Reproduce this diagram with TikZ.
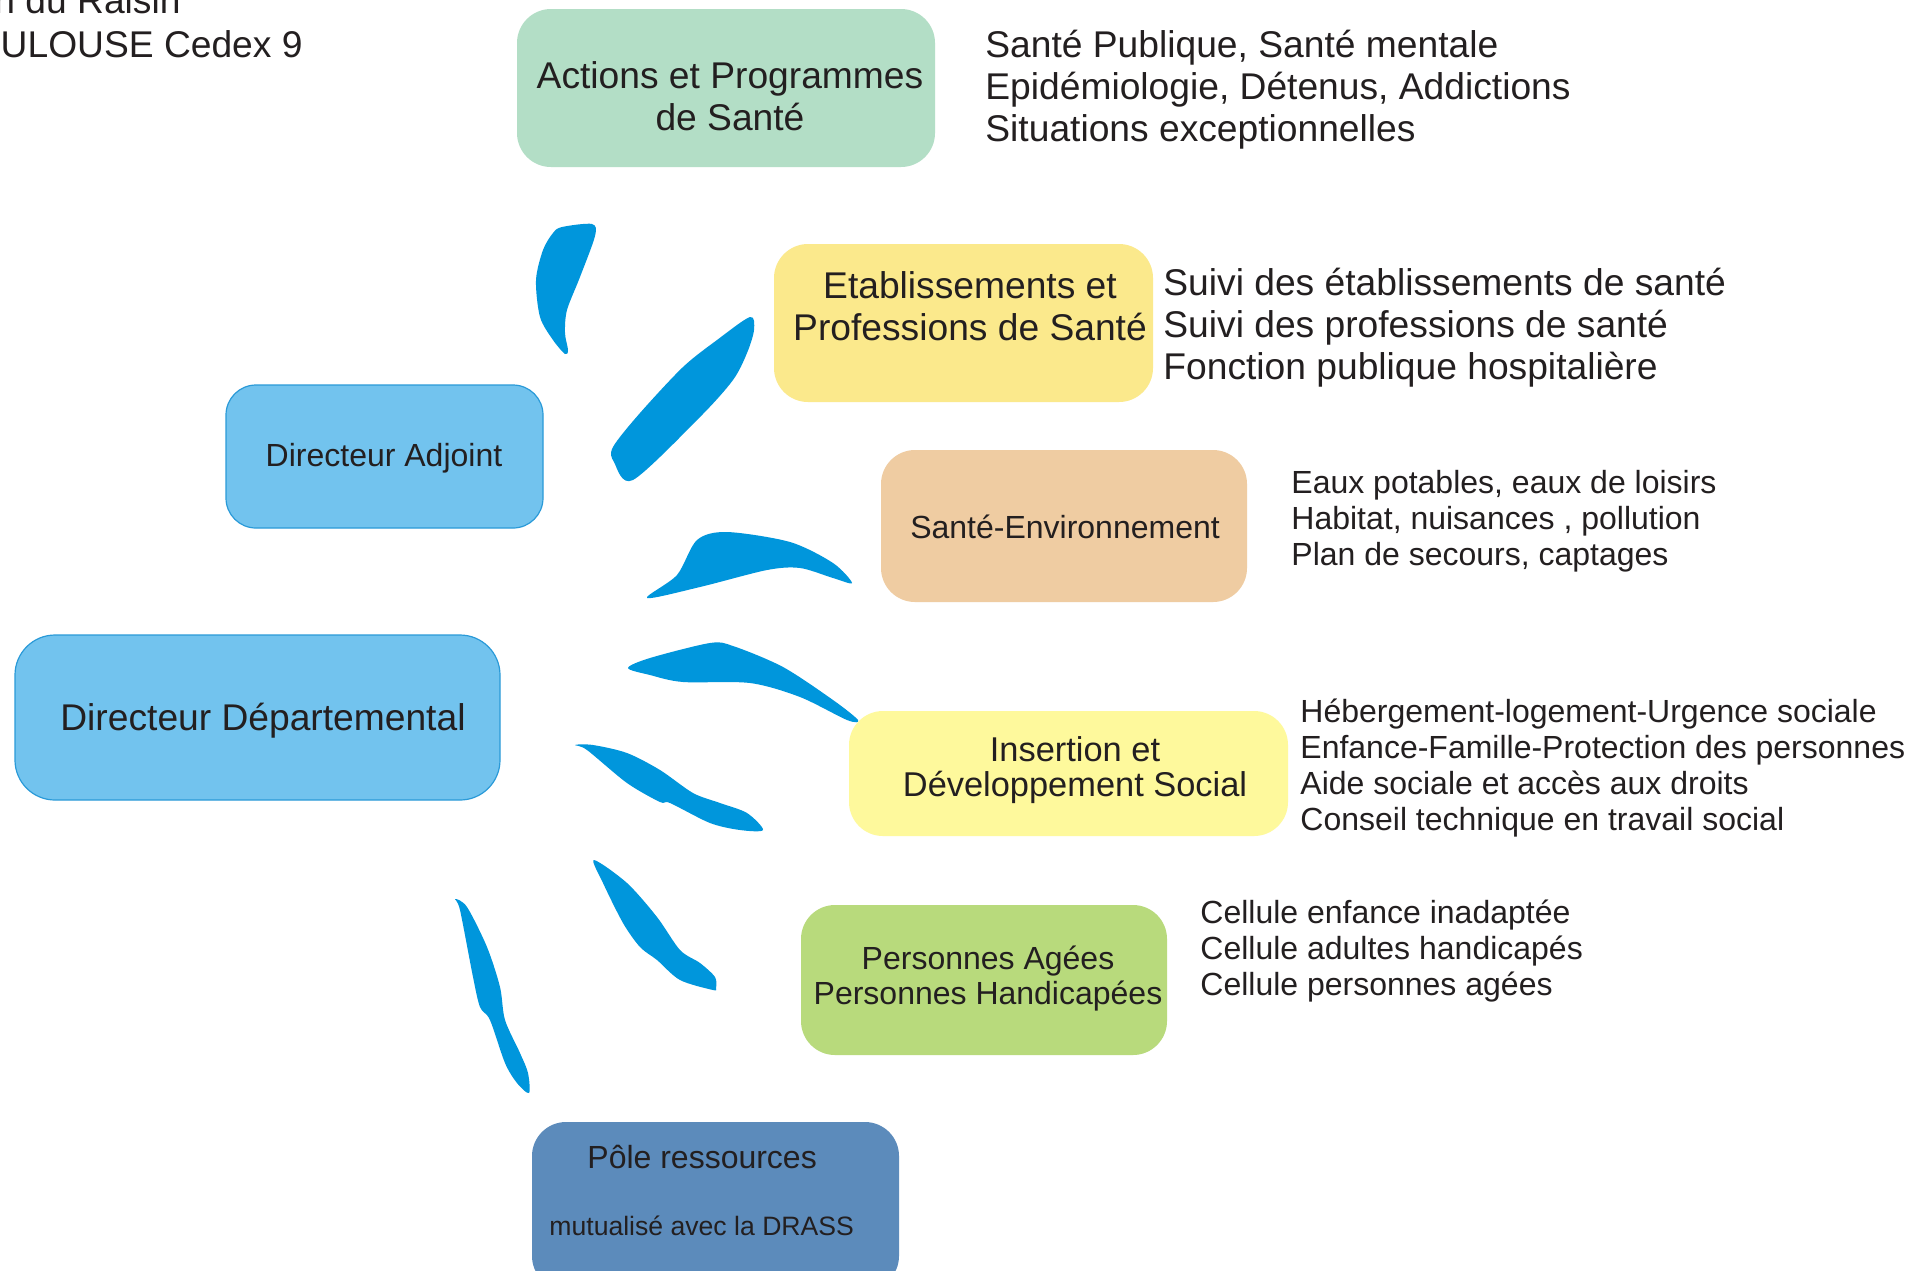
\documentclass[tikz,border=0pt]{standalone}
\usepackage{fontspec}
\setmainfont{Liberation Sans}
\definecolor{leaf}{HTML}{0096DC}
\definecolor{cact}{HTML}{B3DEC6}
\definecolor{cetab}{HTML}{FBE98C}
\definecolor{cse}{HTML}{EFCCA2}
\definecolor{cdir}{HTML}{72C3EE}
\definecolor{cdirline}{HTML}{2A9AD8}
\definecolor{cins}{HTML}{FEF99C}
\definecolor{cpa}{HTML}{B8DA7C}
\definecolor{cpole}{HTML}{5C8BBB}
\definecolor{txt}{HTML}{231F20}
\begin{document}
\begin{tikzpicture}[x=0.5pt,y=-0.5pt,
  box/.style={rectangle,rounded corners=17pt,inner sep=0pt,draw=none},
  dirbox/.style={box,draw=cdirline,line width=0.6pt},
  big/.style={inner sep=0pt,text=txt,font=\fontsize{18.6pt}{21pt}\selectfont},
  mid/.style={inner sep=0pt,text=txt,font=\fontsize{17.2pt}{17.9pt}\selectfont},
  norm/.style={inner sep=0pt,text=txt,font=\fontsize{16pt}{17.9pt}\selectfont},
  small/.style={inner sep=0pt,text=txt,font=\fontsize{13.3pt}{16pt}\selectfont},
  leafshape/.style={fill=leaf,draw=none}]
\useasboundingbox (0,0) rectangle (1930,1270);
\fill[white] (0,0) rectangle (1930,1270);

% decorative leaves
\fill[leafshape] plot[smooth cycle,tension=0.5] coordinates {(562,227) (592,224) (595,236) (580,277) (567,310) (565,333) (568,350) (565,354) (553,340) (540,317) (536,280) (543,250) (553,233)};
\fill[leafshape] plot[smooth cycle,tension=0.5] coordinates {(750,317) (754,330) (747,353) (733,380) (700,417) (633,480) (614,462) (613,447) (640,413) (683,367) (717,340)};
\fill[leafshape] plot[smooth cycle,tension=0.5] coordinates {(647,598) (677,575) (697,540) (727,532) (790,542) (833,563) (852,583) (833,578) (800,568) (767,570) (700,587)};
\fill[leafshape] plot[smooth cycle,tension=0.5] coordinates {(628,668) (650,658) (710,643) (733,646) (783,667) (833,700) (858,720) (847,720) (800,697) (750,683) (683,682) (650,675)};
\fill[leafshape] plot[smooth cycle,tension=0.5] coordinates {(575,745) (593,745) (627,753) (660,770) (693,793) (720,803) (747,813) (763,830) (740,830) (710,823) (670,803) (660,802) (627,783) (587,750)};
\fill[leafshape] plot[smooth cycle,tension=0.5] coordinates {(594,860) (627,883) (657,917) (680,950) (700,963) (715,977) (716,988) (713,990) (680,980) (657,960) (640,947) (623,923) (603,883)};
\fill[leafshape] plot[smooth cycle,tension=0.5] coordinates {(455,899) (467,907) (487,947) (500,987) (505,1020) (520,1053) (528,1073) (529,1093) (517,1083) (505,1063) (490,1020) (480,1007) (473,977) (460,910)};

% boxes
\node[box,fill=cact,minimum width=209pt,minimum height=79pt] (act) at (726,88) {};
\node[box,fill=cetab,minimum width=189.5pt,minimum height=79pt] (etab) at (963.5,323) {};
\node[box,fill=cse,minimum width=183pt,minimum height=76pt] (se) at (1064,526) {};
\node[dirbox,fill=cdir,minimum width=158.5pt,minimum height=71.5pt,rounded corners=15pt] (adj) at (384.5,456.5) {};
\node[dirbox,fill=cdir,minimum width=242.5pt,minimum height=82.5pt,rounded corners=20pt] (dep) at (257.5,717.5) {};
\node[box,fill=cins,minimum width=219.5pt,minimum height=62.5pt] (ins) at (1068.5,773.5) {};
\node[box,fill=cpa,minimum width=183pt,minimum height=75pt] (pa) at (984,980) {};
\node[box,fill=cpole,minimum width=183.5pt,minimum height=84pt] (pole) at (715.5,1206) {};

% box texts
\node[big,align=center] (tact) at (730,96) {Actions et Programmes\\de Santé};
\node[big,align=center] (tetab) at (970,306) {Etablissements et\\Professions de Santé};
\node[norm] (tse) at (1065,527) {Santé-Environnement};
\node[norm] (tadj) at (384,458) {Directeur Adjoint};
\node[big] (tdep) at (263,721) {Directeur Départemental};
\node[mid,align=center] (tins) at (1075,770) {Insertion et\\Développement Social};
\node[norm,align=center] (tpa) at (988,978.5) {Personnes Agées\\Personnes Handicapées};
\node[norm,anchor=west] (tpole1) at (587,1157) {Pôle ressources};
\node[small,anchor=west] (tpole2) at (549,1226) {mutualisé avec la DRASS};

% side texts
\node[big,align=left,anchor=west] (sact) at (985,90) {Santé Publique, Santé mentale\\Epidémiologie, Détenus, Addictions\\Situations exceptionnelles};
\node[big,align=left,anchor=west] (setab) at (1163,327.5) {Suivi des établissements de santé\\Suivi des professions de santé\\Fonction publique hospitalière};
\node[norm,align=left,anchor=west] (sse) at (1291,521) {Eaux potables, eaux de loisirs\\Habitat, nuisances , pollution\\Plan de secours, captages};
\node[norm,align=left,anchor=west] (sins) at (1300,768) {Hébergement-logement-Urgence sociale\\Enfance-Famille-Protection des personnes\\Aide sociale et accès aux droits\\Conseil technique en travail social};
\node[norm,align=left,anchor=west] (spa) at (1200,951) {Cellule enfance inadaptée\\Cellule adultes handicapés\\Cellule personnes agées};

% address (cut at the page edge)
\node[big,anchor=east] (addr1) at (181,0) {n du Raisin};
\node[big,anchor=east] (addr2) at (303,44) {ULOUSE Cedex 9};
\end{tikzpicture}
\end{document}
